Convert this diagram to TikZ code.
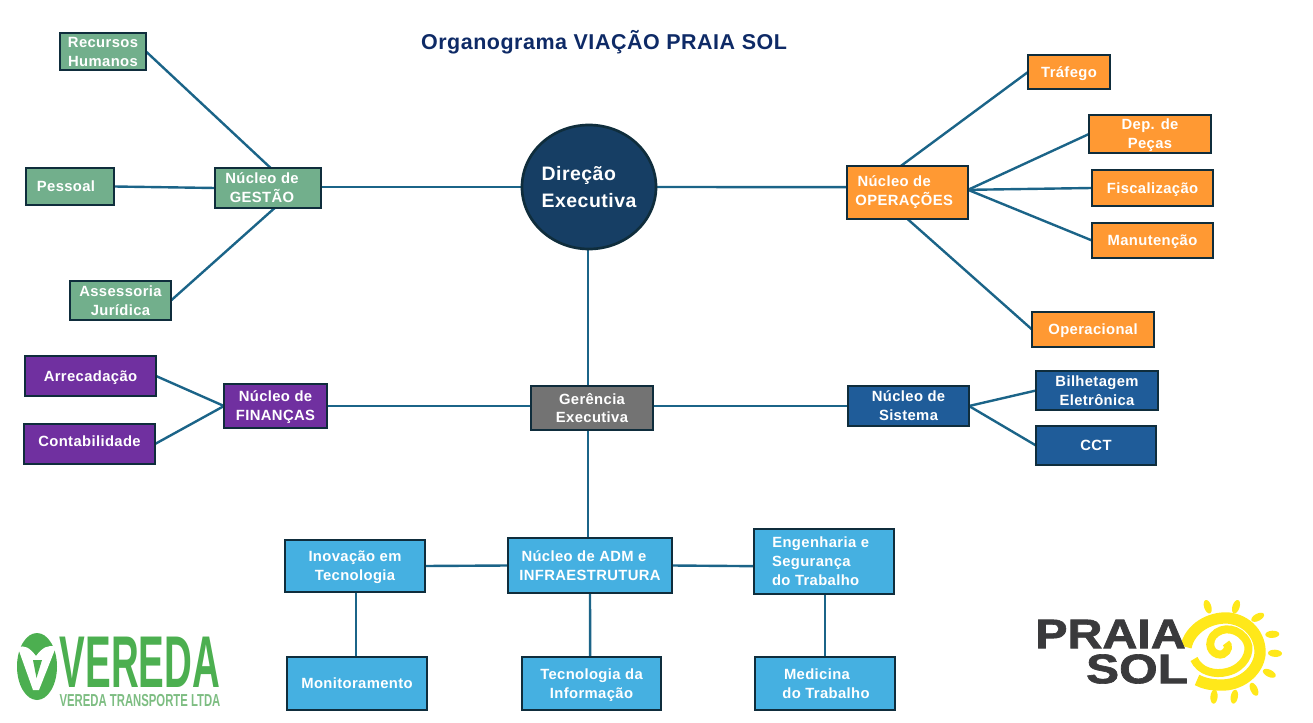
\documentclass[tikz,border=0pt]{standalone}
\usepackage{fontspec}
\usepackage{graphicx}
\setmainfont[LetterSpace=2.5]{Liberation Sans}
\newfontfamily\logofont{Liberation Sans}
\newfontfamily\logoheavy[UprightFont=* Bold,FakeBold=1.5]{Liberation Sans}
\usetikzlibrary{backgrounds,shapes.geometric}
\definecolor{edgeblue}{HTML}{1B6488}
\definecolor{boxline}{HTML}{0F2D3C}
\definecolor{ngreen}{HTML}{72AF8C}
\definecolor{norange}{HTML}{FF9933}
\definecolor{npurple}{HTML}{7030A0}
\definecolor{nblue}{HTML}{1F5C99}
\definecolor{nsky}{HTML}{45B0E1}
\definecolor{ngray}{HTML}{737373}
\definecolor{nnavy}{HTML}{163E64}
\definecolor{titlenavy}{HTML}{0E2A66}
\definecolor{logogreen}{HTML}{4CAF50}
\definecolor{logolight}{HTML}{7DBD82}
\definecolor{sunyellow}{HTML}{FFE81A}
\definecolor{logodark}{HTML}{3A3A3C}
\tikzset{
 orgbox/.style={draw=boxline,line width=2pt,inner sep=0pt,outer sep=0pt,align=center,text=white,text depth=0pt,
   font=\bfseries\fontsize{11.1}{14.2}\selectfont},
 link/.style={draw=edgeblue,line width=1.8pt},
 ray/.style={fill=sunyellow,draw=none},
}
\newcommand{\orgnode}[7]{\node[orgbox,fill=#6,minimum width={(#4-#2)*0.75pt},minimum height={(#5-#3)*0.75pt}] (#1) at ({(#2+#4)/2},{(#3+#5)/2}) {#7};}
\begin{document}
\begin{tikzpicture}[x=0.75pt,y=-0.75pt]
\useasboundingbox (0,0) rectangle (1313,723);
\node[text=titlenavy,font=\bfseries\fontsize{16.1}{20}\selectfont] (title) at (604,42) {Organograma VIAÇÃO PRAIA SOL};
\node[ellipse,draw=boxline,line width=2pt,fill=nnavy,inner sep=0pt,outer sep=0pt,minimum width=100.5pt,minimum height=93pt,align=left,text=white,
  font=\bfseries\fontsize{14.6}{20.5}\selectfont] (dir) at (589,187) {Direção\\[0pt]Executiva};
\orgnode{rh}{60}{33}{146}{70}{ngreen}{Recursos\\Humanos}
\orgnode{pes}{26}{168}{114}{205}{ngreen}{\hspace*{-6pt}Pessoal}
\orgnode{ges}{215}{168}{321}{208}{ngreen}{\hspace*{-9pt}Núcleo de\\\hspace*{-9pt}GESTÃO}
\orgnode{jur}{70}{281}{171}{320}{ngreen}{Assessoria\\Jurídica}
\orgnode{ope}{847}{166}{968}{219}{norange,text depth=3pt}{\hspace*{-20pt}Núcleo de\\\hspace*{-5pt}OPERAÇÕES}
\orgnode{tra}{1028}{55}{1110}{89}{norange}{Tráfego}
\orgnode{dep}{1089}{115}{1211}{153}{norange}{Dep. de\\Peças}
\orgnode{fis}{1092}{170}{1213}{206}{norange}{Fiscalização}
\orgnode{man}{1092}{223}{1213}{258}{norange}{Manutenção}
\orgnode{opr}{1032}{312}{1154}{347}{norange}{Operacional}
\orgnode{arr}{25}{356}{156}{396}{npurple}{Arrecadação}
\orgnode{con}{24}{424}{155}{464}{npurple}{\raisebox{5pt}{Contabilidade}}
\orgnode{fin}{224}{384}{327}{428}{npurple}{Núcleo de\\FINANÇAS}
\orgnode{ger}{531}{386}{653}{430}{ngray}{Gerência\\Executiva}
\orgnode{sis}{848}{386}{969}{426}{nblue}{Núcleo de\\Sistema}
\orgnode{bil}{1036}{371}{1158}{410}{nblue}{Bilhetagem\\Eletrônica}
\orgnode{cct}{1036}{426}{1156}{465}{nblue}{CCT}
\orgnode{ino}{285}{540}{425}{592}{nsky}{Inovação em\\Tecnologia}
\orgnode{adm}{508}{538}{672}{593}{nsky}{\hspace*{-9pt}Núcleo de ADM e\\INFRAESTRUTURA}
\orgnode{eng}{754}{529}{894}{594}{nsky}{\hspace*{-5pt}Engenharia e\\\hspace*{-19pt}Segurança\\\hspace*{-12.5pt}do Trabalho}
\orgnode{mon}{287}{657}{427}{710}{nsky}{Monitoramento}
\orgnode{tec}{522}{657}{661}{710}{nsky}{Tecnologia da\\Informação}
\orgnode{med}{755}{657}{895}{710}{nsky}{\hspace*{-12pt}Medicina\\\hspace*{1.5pt}do Trabalho}
\begin{scope}[on background layer]
\draw[link] (rh.east) -- ([xshift=2pt]ges.north);
\draw[link] (pes.east) -- (ges.west);
\draw[link] (jur.east) -- ([xshift=5pt]ges.south);
\draw[link] ([yshift=0.75pt]ges.east) -- (dir.west);
\draw[link] (dir.east) -- ([yshift=4pt]ope.west);
\draw[link] ([xshift=-0.75pt]dir.south) -- ([xshift=-3pt]ger.north);
\draw[link] ([xshift=-5pt]ope.north) -- (tra.west);
\draw[link] ([yshift=2pt]ope.east) -- (dep.west);
\draw[link] ([yshift=2pt]ope.east) -- (fis.west);
\draw[link] ([yshift=2pt]ope.east) -- (man.west);
\draw[link] (ope.south) -- (opr.west);
\draw[link] (arr.east) -- (fin.west);
\draw[link] (con.east) -- (fin.west);
\draw[link] (fin.east) -- ([yshift=1.5pt]ger.west);
\draw[link] ([yshift=1.5pt]ger.east) -- (sis.west);
\draw[link] (sis.east) -- (bil.west);
\draw[link] (sis.east) -- (cct.west);
\draw[link] ([xshift=-3pt]ger.south) -- ([xshift=-1.5pt]adm.north);
\draw[link] (ino.east) -- (adm.west);
\draw[link] (adm.east) -- ([yshift=-3.5pt]eng.west);
\draw[link] ([xshift=.75pt]ino.south) -- ([xshift=-.75pt]mon.north);
\draw[link] (adm.south) -- ([xshift=-1pt]tec.north);
\draw[link] ([xshift=.75pt]eng.south) -- (med.north);
\end{scope}
% Vereda logo
\fill[logogreen] (37,666.5) ellipse [x radius=20,y radius=33.5];
\fill[white] (18,648) .. controls (24,644) and (30,648) .. (36,656) .. controls (42,648) and (48,644) .. (56,647) -- (39,690) -- (33,690) -- cycle;
\fill[logogreen] (33,660) -- (42,660) -- (36.5,678) -- cycle;
\node[text=logogreen,inner sep=0pt,font=\logofont\bfseries\fontsize{55}{55}\selectfont] (vereda) at (140,662) {\scalebox{.525}[1]{VEREDA}};
\node[text=logolight,inner sep=0pt,font=\logofont\bfseries\fontsize{13}{13}\selectfont] (vereda2) at (140,701) {\scalebox{.653}[1]{VEREDA TRANSPORTE LTDA}};
% Praia Sol logo
\draw[sunyellow,line width=8.5pt] (1186,647) .. controls (1190,628) and (1210,617) .. (1228,618) .. controls (1248,620) and (1261,636) .. (1260,654) .. controls (1258,672) and (1240,686) .. (1220,685) .. controls (1210,685) and (1203,683) .. (1197,680);
\draw[sunyellow,line width=6pt] (1194,659) .. controls (1200,672) and (1215,675) .. (1227,672) .. controls (1244,668) and (1252,652) .. (1247,642) .. controls (1240,628) and (1222,625) .. (1213,636) .. controls (1205,648) and (1216,657) .. (1223,654) .. controls (1229,651) and (1229,645) .. (1226,643);
\foreach \px/\py/\ang in {1207.7/606.7/108, 1236/606.7/72, 1257.7/617.3/28, 1272.3/634.3/3, 1275/653.3/-3, 1269.3/673.3/-26, 1254/689.3/-65, 1234.3/696.7/80, 1214/696.7/85}
  \fill[ray] (\px,\py) ellipse [x radius=7,y radius=3.6,rotate=\ang];
\node[text=logodark,inner sep=0pt,font=\logoheavy\fontsize{31}{31}\selectfont] (praia) at (1110.5,634) {\scalebox{1.17}[1]{PRAIA}};
\node[text=logodark,inner sep=0pt,font=\logoheavy\fontsize{31}{31}\selectfont] (sol) at (1137,669) {\scalebox{1.2}[1]{SOL}};
\end{tikzpicture}
\end{document}
